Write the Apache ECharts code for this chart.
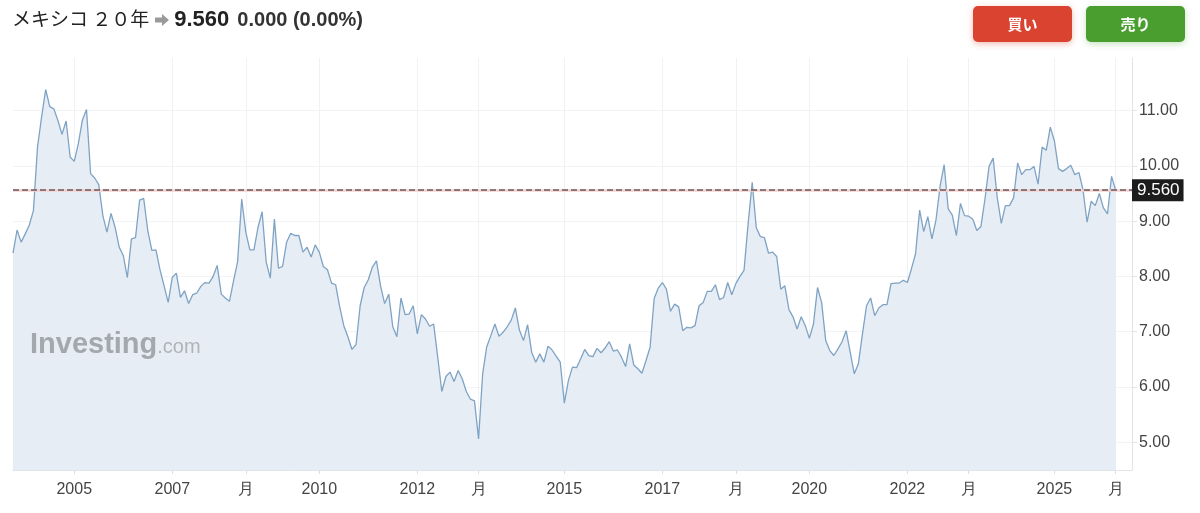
<!DOCTYPE html>
<html>
<head>
<meta charset="utf-8">
<script src="https://cdn.jsdelivr.net/npm/echarts@6/dist/echarts.min.js"></script>
<style>
  html, body { margin: 0; padding: 0; background: #fff; }
  #wrap { position: relative; width: 1200px; height: 513px; overflow: hidden; }
  #chart { position: absolute; left: 0; top: 0; width: 1200px; height: 513px; }
  #hdr { position: absolute; left: 12px; top: 3px; height: 30px; line-height: 30px; z-index: 2;
         font-family: 'Noto Sans CJK JP', 'Liberation Sans', sans-serif; color: #222; white-space: nowrap; }
  #hdr .name { font-size: 19px; }
  #hdr .last { font-family: 'Liberation Sans', sans-serif; font-size: 22px; font-weight: bold; margin-left: 4px; }
  #hdr .chg { font-family: 'Liberation Sans', sans-serif; font-size: 20px; font-weight: bold; color: #333; margin-left: 8px; }
  #hdr svg { vertical-align: -1px; margin-left: 5px; }
  .btn { position: absolute; top: 6px; width: 99px; height: 36px; border-radius: 5px; color: #fff; z-index: 2;
         font-family: 'Noto Sans CJK JP', sans-serif; font-weight: bold; font-size: 15px; text-align: center; line-height: 36px; }
  #buy { left: 973px; background: #d9432f; box-shadow: 0 2px 6px rgba(217, 67, 47, 0.35); }
  #sell { left: 1086px; background: #4a9e30; box-shadow: 0 2px 6px rgba(74, 158, 48, 0.3); }
</style>
</head>
<body>
<div id="wrap">
  <div id="chart"></div>
  <div id="hdr"><span class="name">メキシコ ２０年</span><svg width="16" height="14" viewBox="0 0 16 14"><path d="M1 4.5h7V1l7 6-7 6V9.5H1z" fill="#9a9a9a"/></svg><span class="last">9.560</span><span class="chg">0.000 (0.00%)</span></div>
  <div class="btn" id="buy">買い</div>
  <div class="btn" id="sell">売り</div>
</div>
<script>
// monthly yields (%), Oct 2003 onward
var yields2003_2008 = [8.42, 8.84, 8.62, 8.77, 8.93, 9.19, 10.34, 10.88, 11.38, 11.07, 11.03, 10.82, 10.57, 10.81, 10.16, 10.08, 10.40, 10.83, 11.02, 9.86, 9.78, 9.66,
  9.10, 8.80, 9.14, 8.89, 8.53, 8.38, 7.98, 8.68, 8.70, 9.38, 9.41, 8.83, 8.47, 8.48, 8.12, 7.83, 7.53, 7.98, 8.06, 7.62, 7.74, 7.51, 7.67, 7.70, 7.82, 7.89, 7.88, 8.00,
  8.20, 7.68, 7.61, 7.55, 7.92, 8.27, 9.40, 8.80, 8.48, 8.48];
var yields2008_2015 = [8.89, 9.17, 8.26, 7.97, 9.04, 8.15, 8.18, 8.62, 8.78, 8.74, 8.74,
  8.44, 8.53, 8.35, 8.57, 8.44, 8.18, 8.12, 7.88, 7.85, 7.45, 7.11, 6.91, 6.68, 6.77, 7.47, 7.80, 7.94, 8.17, 8.28, 7.83, 7.51, 7.68, 7.09, 6.91, 7.61, 7.31, 7.32, 7.47,
  6.96, 7.31, 7.23, 7.10, 7.14, 6.54, 5.92, 6.19, 6.27, 6.10, 6.30, 6.15, 5.92, 5.78, 5.75, 5.06, 6.24, 6.73, 6.93, 7.14, 6.92, 6.99, 7.09, 7.21, 7.43, 7.03, 6.84, 7.13,
  6.63, 6.45, 6.60, 6.45, 6.74, 6.67, 6.56, 6.45];
var yields2015_2020 = [5.71, 6.12, 6.36, 6.35, 6.51, 6.68, 6.57, 6.55, 6.70, 6.62, 6.71, 6.82, 6.65, 6.67, 6.54, 6.37, 6.78, 6.40, 6.33, 6.25, 6.48, 6.72,
  7.60, 7.79, 7.89, 7.77, 7.37, 7.50, 7.45, 7.02, 7.08, 7.07, 7.11, 7.47, 7.53, 7.73, 7.73, 7.85, 7.58, 7.62, 7.89, 7.67, 7.87, 8.00, 8.11, 8.95, 9.70, 8.88, 8.72,
  8.70, 8.42, 8.44, 8.36, 7.77, 7.83, 7.40, 7.27, 7.05, 7.27, 7.11];
var yields2020_2026 = [6.88, 7.14, 7.80, 7.53, 6.84, 6.66, 6.57, 6.69, 6.82, 7.02, 6.63, 6.24, 6.42,
  6.96, 7.47, 7.61, 7.29, 7.43, 7.49, 7.49, 7.87, 7.88, 7.88, 7.93, 7.89, 8.14, 8.41, 9.20, 8.81, 9.08, 8.68, 9.02, 9.63, 10.02, 9.22, 9.11, 8.74, 9.32, 9.10, 9.09,
  9.04, 8.83, 8.90, 9.40, 9.99, 10.14, 9.43, 8.96, 9.28, 9.28, 9.42, 10.05, 9.84, 9.93, 9.93, 9.99, 9.67, 10.34, 10.28, 10.70, 10.45, 9.95, 9.90, 9.95, 10.01,
  9.84, 9.88, 9.57, 8.98, 9.36, 9.28, 9.50, 9.24, 9.13, 9.81, 9.56];

var lastPrice = 9.56;
var tickMonths = ['2005-01', '2007-01', '2008-07', '2010-01', '2012-01', '2013-04', '2015-01', '2017-01', '2018-07', '2020-01', '2022-01', '2023-04', '2025-01', '2026-04'];
var tickTexts = ['2005', '2007', '月', '2010', '2012', '月', '2015', '2017', '月', '2020', '2022', '月', '2025', '月'];

var yields = yields2003_2008.concat(yields2008_2015, yields2015_2020, yields2020_2026);

// month categories, plus a few empty ones so the axis runs past the last point
var months = [];
var yr = 2003, mo = 10;
for (var i = 0; i < yields.length + 4; i++) {
  months.push(yr + '-' + (mo < 10 ? '0' + mo : mo));
  mo++;
  if (mo > 12) { mo = 1; yr++; }
}

var tickMap = {};
tickMonths.forEach(function (m, k) { tickMap[m] = tickTexts[k]; });
function isTick(idx, val) { return tickMap[val] !== undefined; }

var myChart = echarts.init(document.getElementById('chart'));

var option = {
  animation: false,
  grid: {
    left: 13,
    right: 68,
    top: 58,
    bottom: 43
  },
  xAxis: {
    type: 'category',
    boundaryGap: false,
    data: months,
    axisLine: { lineStyle: { color: '#e2e4e8' } },
    axisTick: { show: true, interval: isTick, length: 4, lineStyle: { color: '#dcdfe4' } },
    axisLabel: {
      interval: isTick,
      color: '#444',
      fontSize: 16,
      fontFamily: 'Liberation Sans',
      margin: 12,
      formatter: function (v) { return tickMap[v] || ''; }
    },
    splitLine: { show: true, interval: isTick, lineStyle: { color: '#eef1f5' } }
  },
  yAxis: {
    type: 'value',
    position: 'right',
    min: 4.5,
    max: 11.95,
    splitNumber: 7,
    axisLine: { show: true, lineStyle: { color: '#e2e4e8' } },
    axisTick: { show: true, length: 5, lineStyle: { color: '#e2e4e8' } },
    axisLabel: {
      color: '#444',
      fontSize: 16,
      fontFamily: 'Liberation Sans',
      margin: 7,
      showMinLabel: false,
      showMaxLabel: false,
      formatter: function (v) { return v.toFixed(2); }
    },
    splitLine: { show: true, showMaxLine: false, lineStyle: { color: '#f2f3f5' } }
  },
  graphic: [{
    type: 'text',
    left: 30,
    top: 330,
    z: 100,
    silent: true,
    style: {
      text: '{a|Investing}{b|.com}',
      rich: {
        a: { fontFamily: 'Liberation Sans', fontWeight: 'bold', fontSize: 29, fill: '#a4a8ad' },
        b: { fontFamily: 'Liberation Sans', fontSize: 20, fill: '#b0b4b9', padding: [6, 0, 0, 0] }
      }
    }
  }],
  series: [{
    type: 'line',
    data: yields,
    symbol: 'none',
    lineStyle: { color: '#7fa3c4', width: 1.3 },
    areaStyle: { color: '#e6edf5', opacity: 1 },
    markLine: {
      silent: true,
      symbol: 'none',
      data: [
        { yAxis: lastPrice, lineStyle: { type: 'solid', color: '#f2d2d2', width: 2.5 }, label: { show: false } },
        { yAxis: lastPrice }
      ],
      lineStyle: { color: '#6e5757', type: [6, 3], width: 1.5 },
      label: {
        position: 'end',
        distance: 0,
        formatter: function () { return lastPrice.toFixed(3); },
        color: '#fff',
        fontSize: 17,
        fontFamily: 'Liberation Sans',
        backgroundColor: '#1c1c1c',
        padding: [3, 4, 2, 5]
      }
    }
  }]
};

myChart.setOption(option);
</script>
</body>
</html>
